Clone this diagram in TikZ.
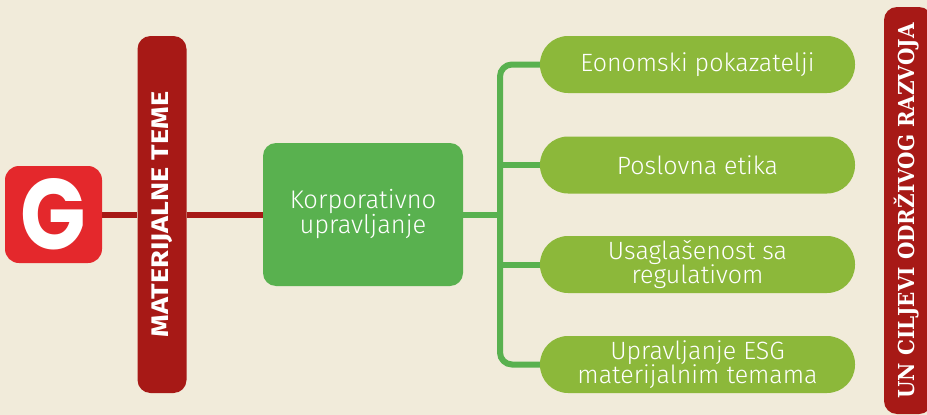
\documentclass[tikz,border=0pt]{standalone}
\usepackage{fontspec}
\setmainfont{Fira Sans Light}
\newfontfamily\gfont{Poppins}
\newfontfamily\matfont{Fira Sans}
\newfontfamily\slabfont{DejaVu Serif}
\usepackage{xcolor}
\usepackage{tikz}
\usetikzlibrary{positioning}
\definecolor{CreamBg}{HTML}{F1EBDA}
\definecolor{SignalRed}{HTML}{E4282C}
\definecolor{DeepRed}{HTML}{A71916}
\definecolor{LeafGreen}{HTML}{59B14F}
\definecolor{LimeGreen}{HTML}{8CB83A}

\begin{document}
\begin{tikzpicture}[x=1pt,y=-1pt,
    gbox/.style={fill=SignalRed, rounded corners=14pt, minimum width=97pt, minimum height=97pt,
      inner sep=0pt, text=white, font=\gfont\bfseries\fontsize{100}{100}\selectfont},
    redbar/.style={fill=DeepRed, rounded corners=13pt, rotate=90, inner sep=0pt, text=white},
    korpbox/.style={fill=LeafGreen, rounded corners=13pt, minimum width=200pt, minimum height=143pt,
      inner sep=0pt, text=white, align=center, font=\fontsize{25.5}{25}\selectfont},
    pill/.style={fill=LimeGreen, rounded corners=28pt, minimum width=315pt, minimum height=57pt,
      inner sep=0pt, text=white, align=center, font=\fontsize{25}{24}\selectfont},
    redlink/.style={DeepRed, line width=6pt},
    branch/.style={LeafGreen, line width=6pt}]
      % canvas
      \fill[CreamBg] (0,0) rectangle (927,415);
      \useasboundingbox (0,0) rectangle (927,415);
      % left part
      \node[gbox] (g) at (53.5,214.5) {\scalebox{0.86}[1]{G}};
      \node[redbar, minimum width=357pt, minimum height=49pt, font=\matfont\bfseries\fontsize{24}{24}\selectfont]
        (mat) at (162,214.5) {\scalebox{1.2}[1]{MATERIJALNE TEME}};
      \node[korpbox] (korp) at (363,214.5) {Korporativno\\upravljanje};
      \draw[redlink] (g.east) -- (mat.north);
      \draw[redlink] (mat.south) -- (korp.west);
      % topics
      \node[pill] (ekon) at (697.5,64.5) {Eonomski pokazatelji};
      \node[pill] (etika) at (697.5,165) {Poslovna etika};
      \node[pill] (regul) at (697.5,264.5) {Usaglašenost sa\\regulativom};
      \node[pill] (esg) at (697.5,364.5) {Upravljanje ESG\\materijalnim temama};
      \coordinate (trunk) at (500,214.5);
      \draw[branch] (korp.east) -- (trunk);
      \draw[branch, rounded corners=12pt] (ekon.west) -| (trunk |- esg.west) -- (esg.west);
      \draw[branch] (etika.west) -- (trunk |- etika.west);
      \draw[branch] (regul.west) -- (trunk |- regul.west);
      % right bar
      \node[redbar, minimum width=407pt, minimum height=48pt] (unbar) at (908,210.5) {};
      \node[rotate=90, inner sep=0pt, text=white, font=\slabfont\bfseries\fontsize{22}{22}\selectfont]
        (untext) at (907,211) {\scalebox{0.91}[1]{UN CILJEVI ODRŽIVOG RAZVOJA}};
    \end{tikzpicture}
\end{document}
